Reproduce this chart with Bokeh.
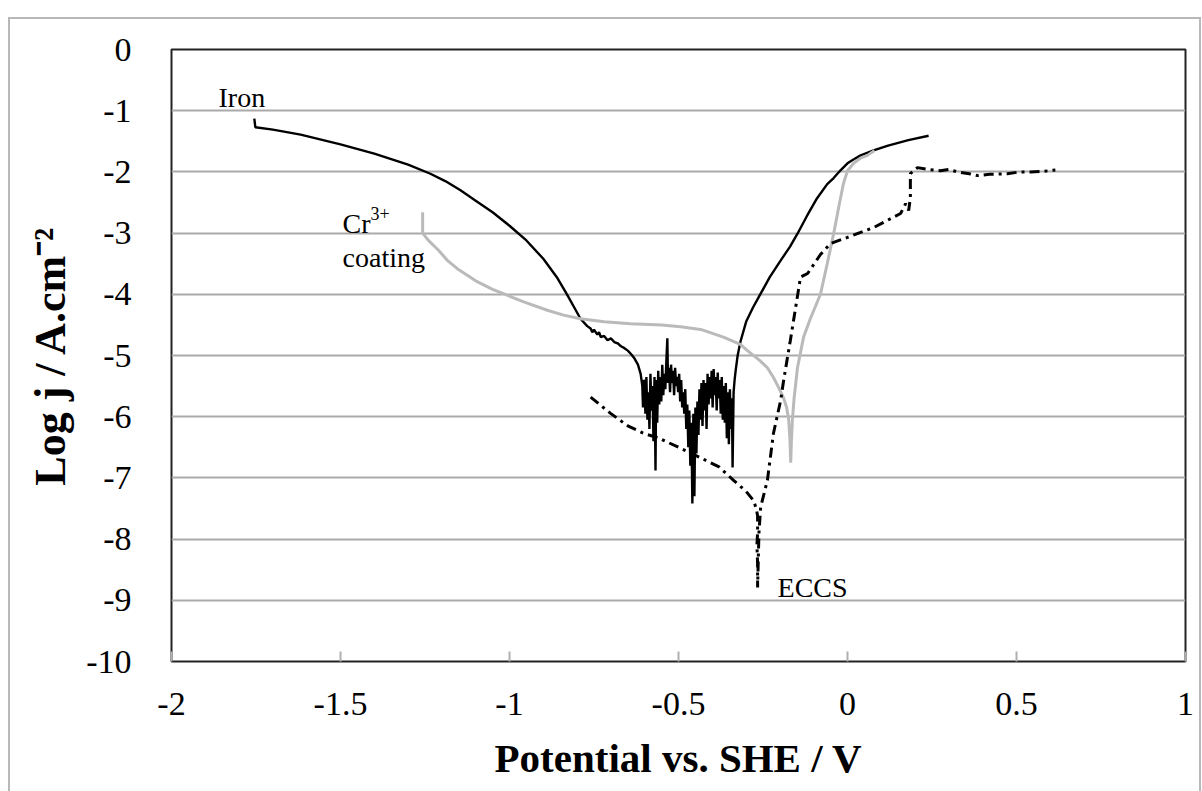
from bokeh.plotting import figure
from bokeh.models import Label, FixedTicker, Range1d
from bokeh.embed import file_html
from bokeh.resources import INLINE

# ---------------- data ----------------
x_ticks = [-2, -1.5, -1, -0.5, 0, 0.5, 1]
x_tick_labels = ["-2", "-1.5", "-1", "-0.5", "0", "0.5", "1"]
y_ticks = [0, -1, -2, -3, -4, -5, -6, -7, -8, -9, -10]
y_tick_labels = ["0", "-1", "-2", "-3", "-4", "-5", "-6", "-7", "-8", "-9", "-10"]

iron_E = [-1.755, -1.752, -1.70, -1.618, -1.50, -1.40, -1.30, -1.234, -1.19, -1.145, -1.10, -1.05,
          -1.00, -0.95, -0.90, -0.86, -0.83, -0.81, -0.79, -0.77, -0.76, -0.755, -0.75, -0.74, -0.735,
          -0.73, -0.72, -0.71, -0.70, -0.69, -0.68, -0.67, -0.66, -0.65, -0.64, -0.63, -0.62, -0.612,
          -0.607, -0.605, -0.603,
          -0.600, -0.598, -0.595, -0.592, -0.589, -0.586, -0.583, -0.580, -0.577, -0.574, -0.571, -0.568,
          -0.566, -0.563, -0.560, -0.557, -0.554, -0.551, -0.548, -0.545, -0.542, -0.539, -0.536, -0.533,
          -0.531, -0.528, -0.525, -0.522, -0.519, -0.516, -0.513, -0.510, -0.507, -0.504, -0.501, -0.498,
          -0.495, -0.492, -0.489, -0.486, -0.483, -0.480, -0.477, -0.474, -0.471, -0.468, -0.465, -0.462,
          -0.459, -0.456, -0.453, -0.450, -0.447, -0.444, -0.441, -0.438, -0.435, -0.432, -0.429, -0.426,
          -0.423, -0.420, -0.417, -0.414, -0.411, -0.408, -0.405, -0.402, -0.399, -0.396, -0.393, -0.390,
          -0.387, -0.384, -0.381, -0.378, -0.375, -0.372, -0.369, -0.366, -0.363, -0.360, -0.357, -0.354,
          -0.351, -0.348, -0.345, -0.342, -0.340, -0.337, -0.334, -0.331,
          -0.325, -0.317, -0.30, -0.28, -0.257, -0.23, -0.198, -0.17, -0.148, -0.12, -0.09, -0.06,
          -0.041, -0.02, 0.0, 0.02, 0.039, 0.077, 0.12, 0.18, 0.24]
iron_logj = [-1.13, -1.27, -1.31, -1.39, -1.55, -1.70, -1.88, -2.03, -2.15, -2.30, -2.47, -2.66,
             -2.88, -3.12, -3.42, -3.72, -4.00, -4.20, -4.40, -4.52, -4.56, -4.62, -4.58, -4.66, -4.62,
             -4.70, -4.68, -4.75, -4.72, -4.78, -4.80, -4.85, -4.88, -4.92, -4.98, -5.05, -5.15, -5.30,
             -5.50, -5.85, -5.40,
             -5.45, -5.95, -5.35, -6.05, -5.60, -6.20, -5.30, -5.90, -5.50, -6.40, -5.35, -6.88,
             -5.40, -6.10, -5.25, -5.80, -5.35, -5.75, -5.15, -5.65, -5.30, -5.55, -5.10, -4.72,
             -5.45, -5.20, -5.60, -5.15, -5.45, -5.25, -5.65, -5.20, -5.50, -5.35, -5.60, -5.30,
             -5.75, -5.40, -5.85, -5.60, -5.95, -5.55, -6.20, -5.80, -6.50, -5.90, -6.80, -6.10,
             -7.42, -5.95, -7.30, -5.85, -6.60, -5.75, -6.30, -5.55, -6.05, -5.45, -6.15, -5.40,
             -5.90, -5.45, -6.20, -5.30, -5.80, -5.35, -5.70, -5.25, -5.85, -5.22, -5.65, -5.35,
             -5.90, -5.28, -5.70, -5.40, -5.95, -5.35, -6.05, -5.50, -6.10, -5.45, -6.35, -5.60,
             -6.45, -5.55, -6.20, -5.70, -6.83, -5.60, -5.40, -5.25,
             -5.00, -4.78, -4.45, -4.22, -3.99, -3.72, -3.45, -3.22, -3.01, -2.72, -2.43, -2.20,
             -2.10, -1.97, -1.86, -1.79, -1.73, -1.65, -1.57, -1.48, -1.41]

cr_E = [-1.257, -1.257, -1.24, -1.21, -1.183, -1.15, -1.10, -1.05, -1.018, -0.96, -0.888, -0.84,
        -0.79, -0.72, -0.642, -0.55, -0.494, -0.43, -0.367, -0.317, -0.296, -0.26, -0.237, -0.219,
        -0.204, -0.19, -0.18, -0.174, -0.170, -0.168, -0.166, -0.163, -0.158, -0.148, -0.13, -0.11,
        -0.080, -0.06, -0.041, -0.025, -0.012, 0.0, 0.018, 0.04, 0.059, 0.08]
cr_logj = [-2.66, -3.00, -3.12, -3.28, -3.45, -3.60, -3.78, -3.92, -3.99, -4.12, -4.26, -4.34,
           -4.40, -4.45, -4.48, -4.50, -4.53, -4.58, -4.70, -4.82, -4.92, -5.08, -5.20, -5.36,
           -5.52, -5.68, -5.85, -6.05, -6.40, -6.75, -6.40, -6.05, -5.70, -5.20, -4.70, -4.40,
           -4.00, -3.50, -3.01, -2.55, -2.19, -1.98, -1.86, -1.77, -1.73, -1.65]

eccs_E = [-0.760, -0.70, -0.65, -0.60, -0.562, -0.50, -0.435, -0.38, -0.337, -0.30, -0.278, -0.270,
          -0.266, -0.266, -0.268, -0.266, -0.266, -0.262, -0.257, -0.237, -0.219, -0.198, -0.189,
          -0.169, -0.139, -0.118, -0.08, -0.050, 0.0, 0.077, 0.157, 0.172, 0.181, 0.186, 0.186,
          0.196, 0.207, 0.24, 0.275, 0.30, 0.325, 0.36, 0.385, 0.42, 0.473, 0.51, 0.541, 0.58, 0.615]
eccs_logj = [-5.68, -5.95, -6.15, -6.28, -6.34, -6.50, -6.67, -6.82, -7.04, -7.22, -7.37, -7.50,
             -7.62, -7.90, -8.10, -8.40, -8.79, -7.90, -7.48, -7.04, -6.27, -5.74, -5.41,
             -4.75, -3.72, -3.66, -3.35, -3.17, -3.07, -2.91, -2.68, -2.52, -2.63, -2.42, -2.03,
             -1.98, -1.93, -1.96, -1.98, -1.96, -2.00, -2.03, -2.06, -2.04, -2.03, -2.00, -2.00, -1.99, -1.97]

SERIF = "Liberation Serif"

# canvas placed at (10, 19) inside the 1202x791 window
OX, OY = 10, 19
W, H = 1189, 772
FL, FR, FT, FB = 171 - OX, 1185 - OX, 49 - OY, 661 - OY

p = figure(width=W, height=H, x_range=Range1d(-2, 1), y_range=Range1d(-10, 0),
           output_backend="svg", toolbar_location=None,
           min_border_left=FL, min_border_right=W - FR, min_border_top=FT, min_border_bottom=H - FB,
           margin=(OY, 0, 0, OX))
p.styles = {"outline": "2px solid #b8b8b8", "outline-offset": "0px"}
p.background_fill_color = "white"
p.border_fill_color = "white"
p.outline_line_color = "#222222"
p.outline_line_width = 2

# axes
p.xaxis.ticker = FixedTicker(ticks=x_ticks)
p.xaxis.major_label_overrides = {t: l for t, l in zip(x_ticks, x_tick_labels)}
p.yaxis.ticker = FixedTicker(ticks=y_ticks)
p.yaxis.major_label_overrides = {t: l for t, l in zip(y_ticks, y_tick_labels)}
for ax in (p.xaxis, p.yaxis):
    ax.axis_line_color = None
    ax.minor_tick_line_color = None
    ax.major_label_text_font = SERIF
    ax.major_label_text_font_size = "34px"
    ax.major_label_text_color = "black"
    ax.axis_label_text_font = SERIF
    ax.axis_label_text_font_style = "bold"
    ax.axis_label_text_color = "black"
p.xaxis.major_tick_in = 10
p.xaxis.major_tick_out = 0
p.xaxis.major_tick_line_color = "#b0b0b0"
p.xaxis.major_tick_line_width = 2
p.xaxis.major_label_standoff = 31
p.yaxis.major_tick_line_color = None
p.yaxis.major_label_standoff = 34

p.xaxis.axis_label = "Potential vs. SHE / V"
p.xaxis.axis_label_text_font_size = "41px"
p.xaxis.axis_label_standoff = 17
p.yaxis.axis_label = "Log j / A.cm\u207b\u00b2"
p.yaxis.axis_label_text_font_size = "44px"
p.yaxis.axis_label_standoff = 8

p.xgrid.grid_line_color = None
p.ygrid.ticker = FixedTicker(ticks=y_ticks)
p.ygrid.grid_line_color = "#aaaaaa"
p.ygrid.grid_line_width = 2

# curves
p.line(iron_E, iron_logj, line_color="black", line_width=2.4)
p.line(cr_E, cr_logj, line_color="#bababa", line_width=3)
p.line(eccs_E, eccs_logj, line_color="black", line_width=3, line_dash="10 5 3 5")

# in-plot annotations
def dlabel(x, y, text, size):
    p.add_layout(Label(x=x, y=y, text=text, text_font=SERIF, text_font_size=size,
                       text_color="black", text_baseline="alphabetic", text_align="left"))

dlabel(-1.861, -0.784, "Iron", "28px")
dlabel(-1.494, -2.843, "Cr", "28px")
dlabel(-1.411, -2.68, "3+", "18px")
dlabel(-1.494, -3.40, "coating", "28px")
dlabel(-0.207, -8.79, "ECCS", "28px")

open("out.html", "w").write(file_html(p, INLINE))
